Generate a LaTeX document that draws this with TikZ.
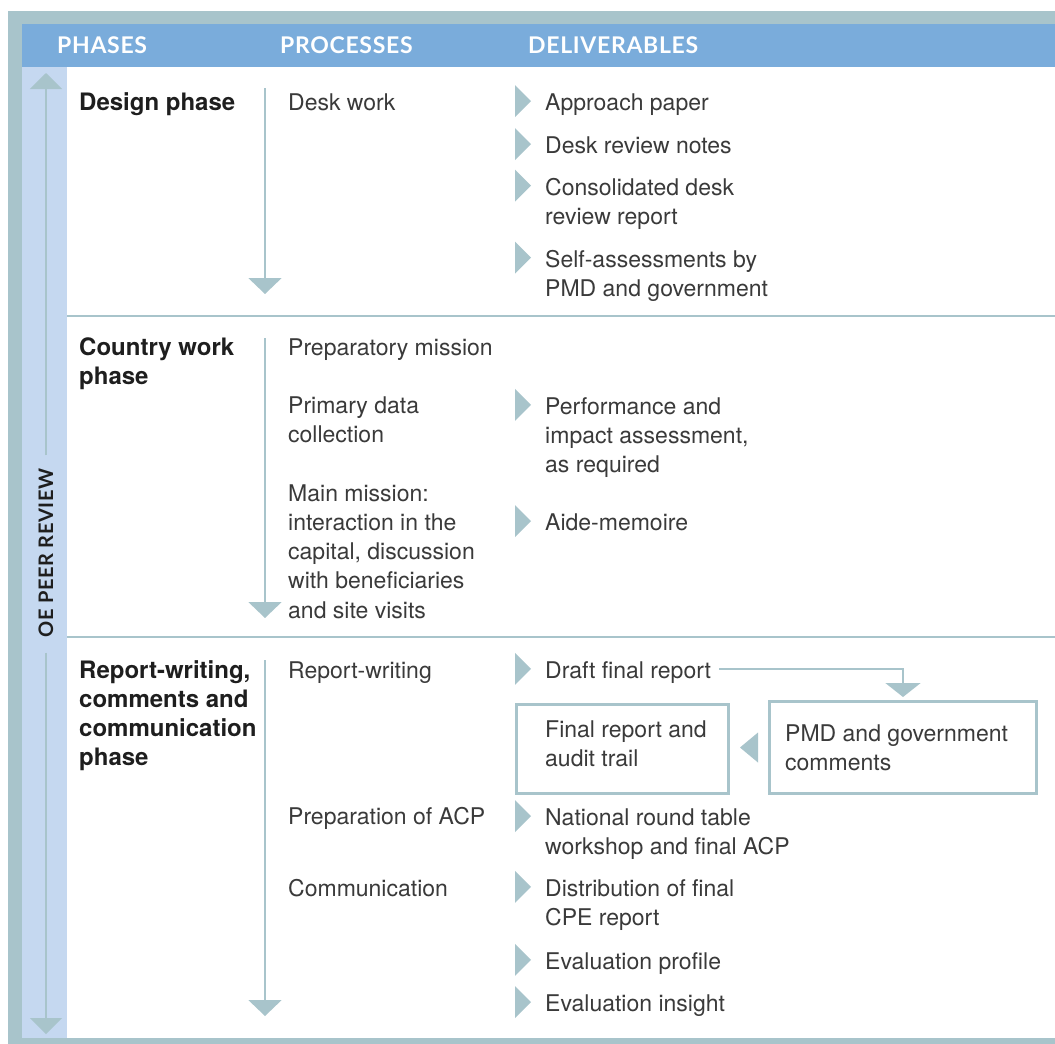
\documentclass[tikz,border=0pt]{standalone}
\usepackage{fontspec}
\setmainfont{TeX Gyre Heros}
\newfontfamily\headfont[LetterSpace=3]{Lato}
\usetikzlibrary{arrows.meta,calc}
\definecolor{framecol}{HTML}{A8C4CB}
\definecolor{headcol}{HTML}{7AACDB}
\definecolor{sidecol}{HTML}{C5D8F0}
\definecolor{textcol}{HTML}{3A3A3A}
\definecolor{phasecol}{HTML}{1E1E1E}
\tikzset{
  headtext/.style={anchor=west, inner sep=0pt, text=white, font=\headfont\bfseries\fontsize{23}{23}\selectfont},
  sidetext/.style={inner sep=0pt, rotate=90, text=phasecol, font=\headfont\bfseries\fontsize{20}{20}\selectfont},
  phasetext/.style={anchor=base west, inner sep=0pt, align=left, text=phasecol, font=\bfseries\fontsize{24}{29.3}\selectfont},
  proctext/.style={anchor=base west, inner sep=0pt, align=left, text=textcol, font=\fontsize{23}{29.3}\selectfont},
  delivtext/.style={proctext},
  boxframe/.style={draw=framecol, line width=3pt, anchor=north west, inner sep=0pt},
  sepline/.style={framecol, line width=2pt},
  flow/.style={framecol, line width=2pt, -{Triangle[width=33pt, length=16pt]}},
  sideflow/.style={framecol, line width=2pt, -{Triangle[width=32pt, length=16pt]}},
}
\begin{document}
\begin{tikzpicture}[x=1pt, y=-1pt]
  \useasboundingbox (0,0) rectangle (1055,1044);
  % frame, header, sidebar
  \fill[framecol] (8,11) rectangle (1055,1044);
  \fill[headcol] (22,24) rectangle (1055,67);
  \fill[sidecol] (22,67) rectangle (67,1038);
  \fill[white] (67,67) rectangle (1055,1038);
  \draw[sepline] (67,316) -- (1055,316);
  \draw[sepline] (67,637) -- (1055,637);

  % column heads
  \node[headtext] (hphase) at (57,45) {PHASES};
  \node[headtext] (hproc) at (280,45) {PROCESSES};
  \node[headtext] (hdeliv) at (528,45) {DELIVERABLES};

  % side arrow
  \node[sidetext] (oe) at (46,553) {OE PEER REVIEW};
  \coordinate (oetop) at (46,73);
  \coordinate (oebot) at (46,1034);
  \draw[sideflow, shorten <=13pt] (oe.east) -- (oetop);
  \draw[sideflow, shorten <=15pt] (oe.west) -- (oebot);

  % process arrows
  \coordinate (p1a) at (265,88);   \coordinate (p1b) at (265,294);
  \coordinate (p2a) at (265,338);  \coordinate (p2b) at (265,618);
  \coordinate (p3a) at (265,660);  \coordinate (p3b) at (265,1016);
  \draw[flow] (p1a) -- (p1b);
  \draw[flow] (p2a) -- (p2b);
  \draw[flow] (p3a) -- (p3b);

  % design phase (multi-line nodes sit on their last baseline)
  \node[phasetext] (ph1) at (79,110) {Design phase};
  \node[proctext] (pr11) at (288,110) {Desk work};
  \node[delivtext] (d11) at (545,110) {Approach paper};
  \node[delivtext] (d12) at (545,153) {Desk review notes};
  \node[delivtext] (d13) at (545,224.3) {Consolidated desk\\review report};
  \node[delivtext] (d14) at (545,296.3) {Self-assessments by\\PMD and government};

  % country work phase
  \node[phasetext] (ph2) at (79,384.3) {Country work\\phase};
  \node[proctext] (pr21) at (288,355) {Preparatory mission};
  \node[proctext] (pr22) at (288,442.3) {Primary data\\collection};
  \node[proctext] (pr23) at (288,618.2) {Main mission:\\interaction in the\\capital, discussion\\with beneficiaries\\and site visits};
  \node[delivtext] (d21) at (545,472.6) {Performance and\\impact assessment,\\as required};
  \node[delivtext] (d22) at (545,530) {Aide-memoire};

  % report-writing phase
  \node[phasetext] (ph3) at (79,765.9) {Report-writing,\\comments and\\communication\\phase};
  \node[proctext] (pr31) at (288,678) {Report-writing};
  \node[proctext] (pr32) at (288,824) {Preparation of ACP};
  \node[proctext] (pr33) at (288,896) {Communication};
  \node[delivtext] (d31) at (545,678) {Draft final report};
  \node[delivtext] (d32) at (545,854.3) {National round table\\workshop and final ACP};
  \node[delivtext] (d33) at (545,925.3) {Distribution of final\\CPE report};
  \node[delivtext] (d34) at (545,969) {Evaluation profile};
  \node[delivtext] (d35) at (545,1011) {Evaluation insight};

  % comment loop
  \node[boxframe, minimum width=212pt, minimum height=89pt] (final) at (515,703) {};
  \node[boxframe, minimum width=267pt, minimum height=92pt] (pmd) at (768,700) {};
  \node[proctext, anchor=west] (finaltext) at ($(final.west)+(30,-5)$) {Final report and\\audit trail};
  \node[proctext, anchor=west] (pmdtext) at ($(pmd.west)+(17,0)$) {PMD and government\\comments};
  \draw[framecol, line width=2pt, -{Triangle[width=35pt, length=14pt]}, shorten >=3pt]
    ($(d31.base east)+(8,-9)$) -| (pmd.north);
  \fill[framecol] ($(pmd.west)+(-10,-15)$) -- ++(0,30) -- ++(-18,-15) -- cycle;

  % deliverable markers, level with the first line
  \foreach \n in {d11,d12,d13,d14,d21,d22,d31,d32,d33,d34,d35}
    \fill[framecol] ($(\n.north west)+(-30,-8)$) -- ++(16,16) -- ++(-16,16) -- cycle;
\end{tikzpicture}
\end{document}
